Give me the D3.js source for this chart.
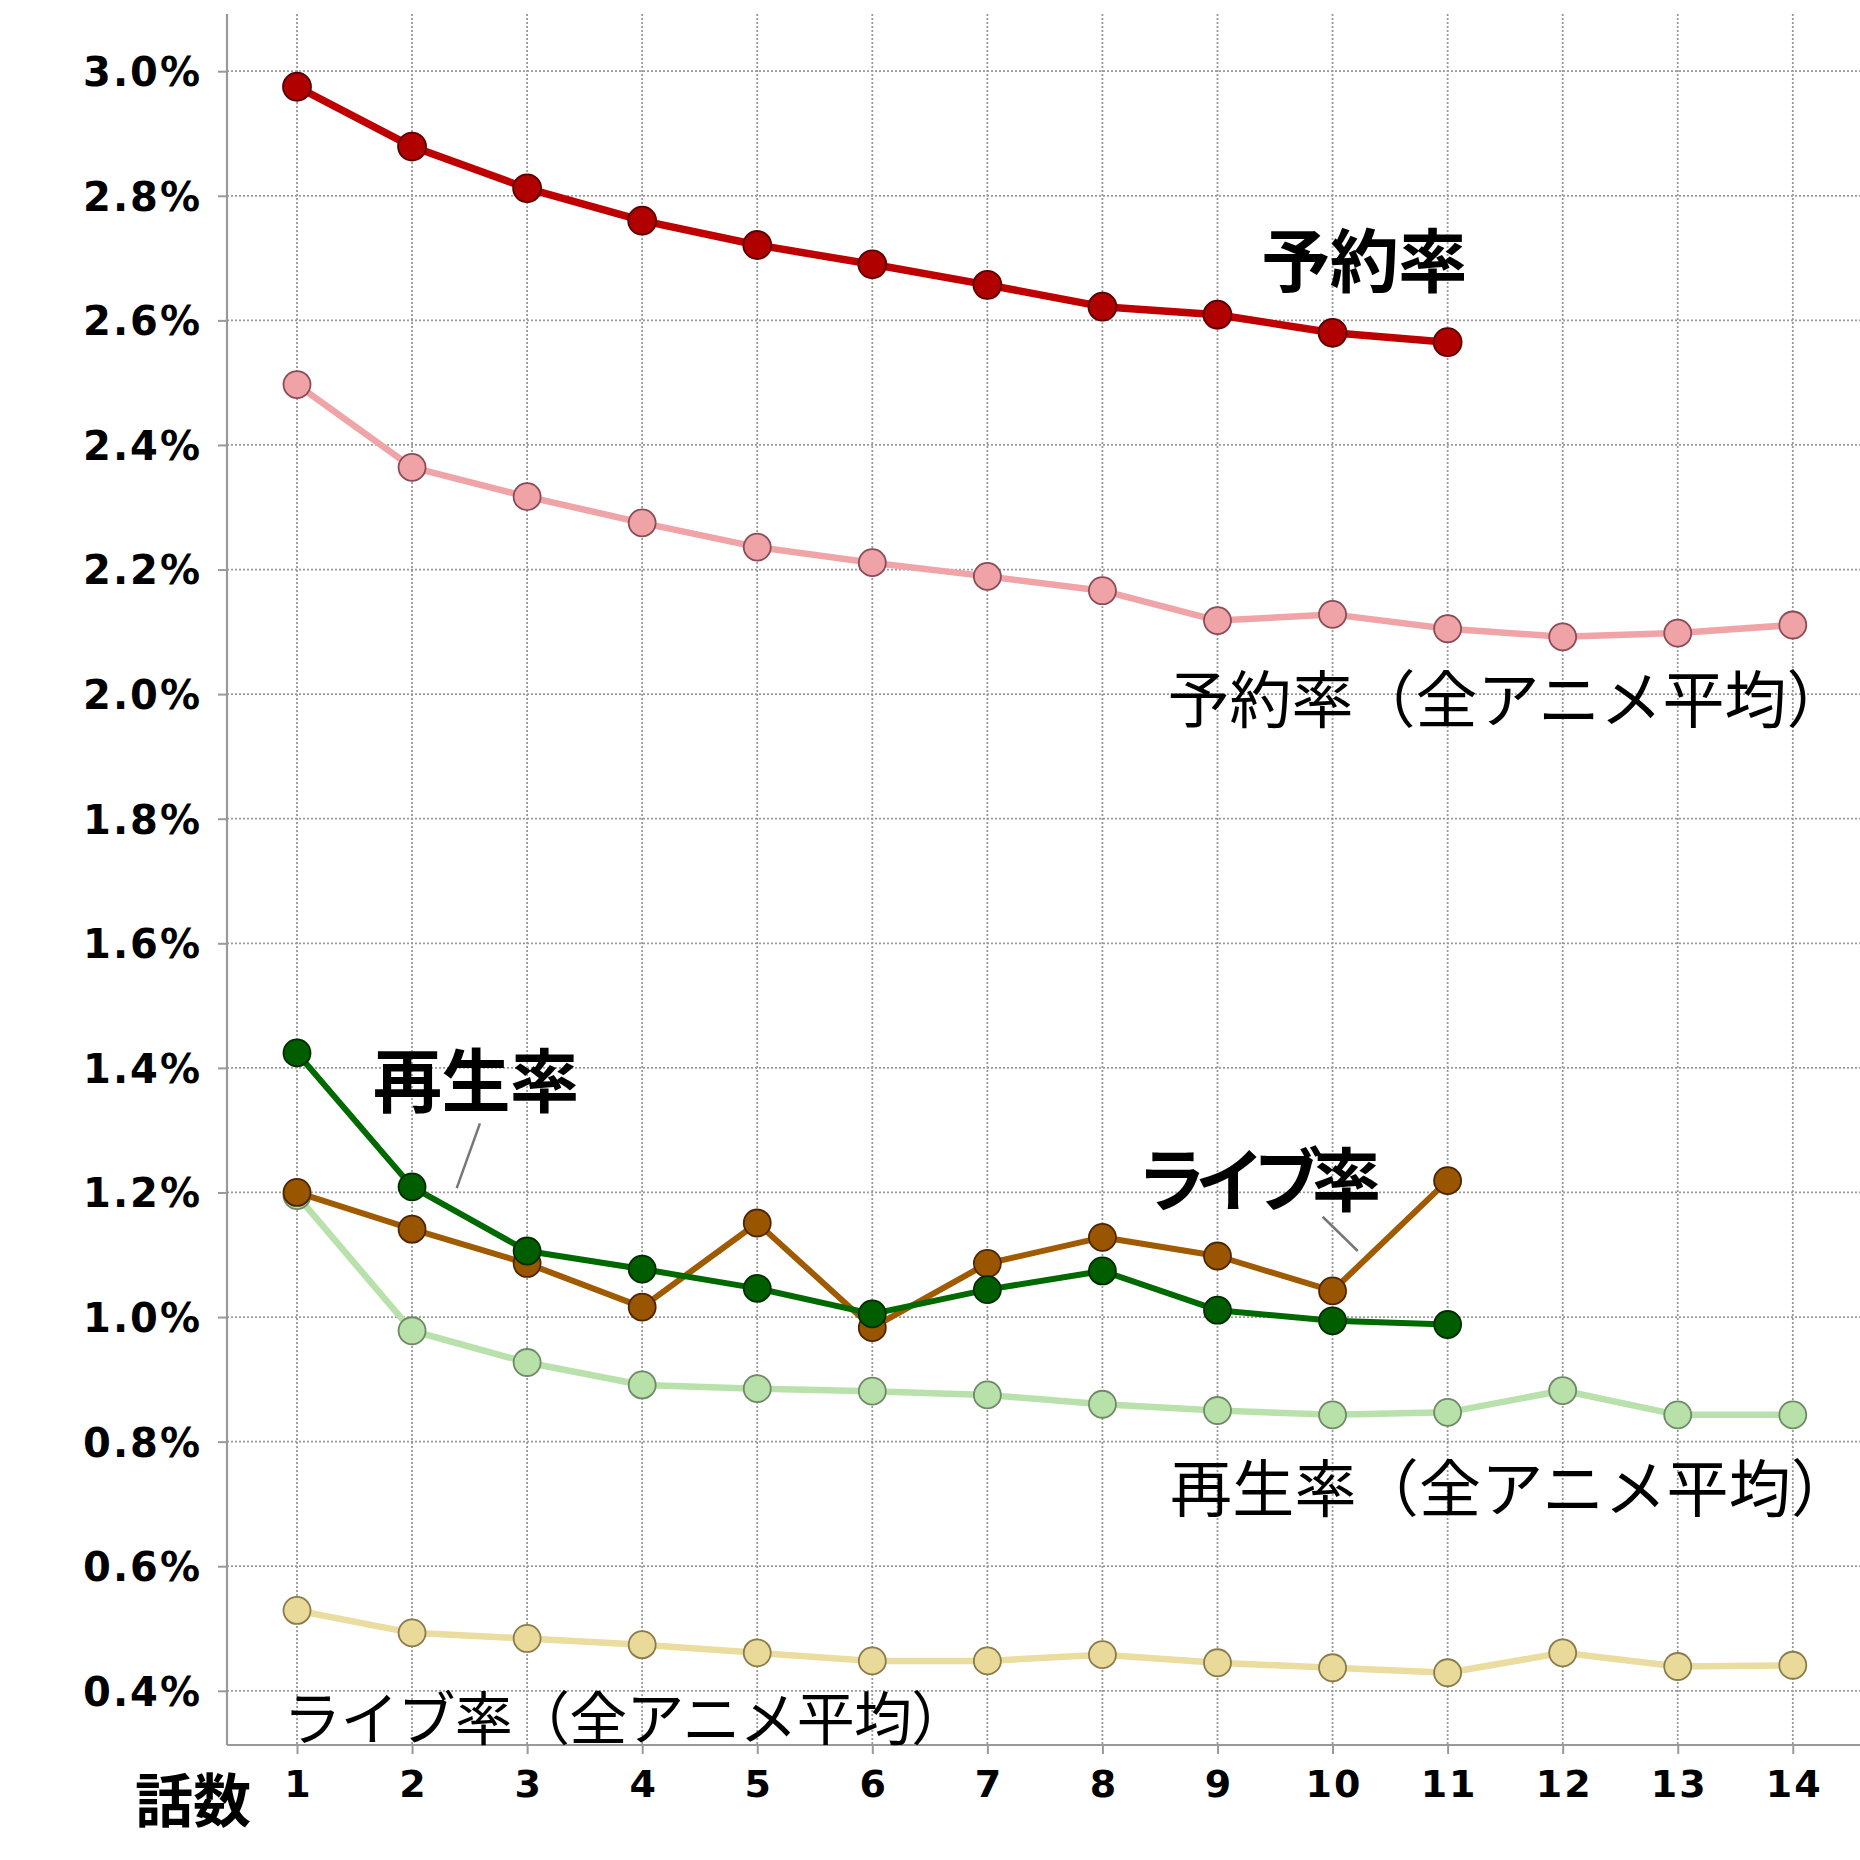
<!DOCTYPE html>
<html>
<head>
<meta charset="utf-8">
<script src="https://cdn.jsdelivr.net/npm/d3@7"></script>
<style>
  html, body { margin: 0; padding: 0; background: #fff; }
  svg { display: block; }
</style>
</head>
<body>
<div id="chart"></div>
<script>
// ---- data ----
const episodes = [1,2,3,4,5,6,7,8,9,10,11,12,13,14];
const yTicks = [0.4,0.6,0.8,1.0,1.2,1.4,1.6,1.8,2.0,2.2,2.4,2.6,2.8,3.0];

const yoyakuRate    = [2.975,2.879,2.812,2.760,2.721,2.690,2.657,2.622,2.609,2.580,2.565];
const saiseiRate    = [1.424,1.209,1.106,1.077,1.046,1.005,1.044,1.074,1.011,0.994,0.988];
const liveRate      = [1.200,1.141,1.086,1.016,1.151,0.983,1.086,1.128,1.098,1.042,1.219];
const yoyakuAvg     = [2.497,2.364,2.317,2.275,2.236,2.211,2.189,2.166,2.118,2.128,2.105,2.092,2.098,2.111];
const saiseiAvg     = [1.195,0.978,0.927,0.891,0.885,0.881,0.875,0.860,0.850,0.843,0.847,0.882,0.843,0.843];
const liveAvg       = [0.529,0.493,0.484,0.474,0.461,0.448,0.448,0.458,0.445,0.437,0.429,0.461,0.439,0.441];

const seriesNames = ["再生率（全アニメ平均）","ライブ率（全アニメ平均）","予約率（全アニメ平均）","ライブ率","再生率","予約率"];

// ---- layout ----
const W = 1860, H = 1860;
const plotLeft = 227, plotRight = 1860, plotTop = 14, plotBottom = 1745;

const x = d3.scaleLinear().domain([1, 14]).range([297, 1792.8]);
const y = d3.scaleLinear().domain([0.4, 3.0]).range([1690.8, 71.2]);

const svg = d3.select("#chart").append("svg")
  .attr("width", W).attr("height", H);

// grid
const grid = svg.append("g");
grid.selectAll("line.hg").data(yTicks).join("line")
  .attr("x1", plotLeft).attr("x2", plotRight)
  .attr("y1", d => y(d)).attr("y2", d => y(d))
  .attr("stroke", "#999").attr("stroke-width", 1.8).attr("stroke-dasharray", "2,2");
grid.selectAll("line.vg").data(episodes).join("line")
  .attr("x1", d => x(d)).attr("x2", d => x(d))
  .attr("y1", plotTop).attr("y2", plotBottom)
  .attr("stroke", "#999").attr("stroke-width", 1.8).attr("stroke-dasharray", "2,2");

// axes
const yAxis = d3.axisLeft(y).tickValues(yTicks).tickSize(9)
  .tickFormat(d => d3.format(".1f")(d) + "%");
const gy = svg.append("g").attr("transform", `translate(${plotLeft},0)`).call(yAxis);
gy.select(".domain").remove();
gy.selectAll(".tick line").attr("stroke", "#999").attr("stroke-width", 2);
gy.selectAll(".tick text")
  .attr("x", -25).attr("dy", "0.36em")
  .style("font-family", "'DejaVu Sans', Verdana, sans-serif")
  .style("letter-spacing", "2px")
  .style("font-weight", "bold").style("font-size", "40px").attr("fill", "#000");

const xAxis = d3.axisBottom(x).tickValues(episodes).tickSize(9).tickFormat(d3.format("d"));
const gx = svg.append("g").attr("transform", `translate(0,${plotBottom})`).call(xAxis);
gx.select(".domain").remove();
gx.selectAll(".tick line").attr("stroke", "#999").attr("stroke-width", 2);
gx.selectAll(".tick text")
  .attr("y", 38).attr("dy", "0.36em").attr("dx", 1)
  .style("font-family", "'DejaVu Sans', Verdana, sans-serif")
  .style("letter-spacing", "2px")
  .style("font-weight", "bold").style("font-size", "38px").attr("fill", "#000");

svg.append("line").attr("x1", plotLeft).attr("x2", plotLeft)
  .attr("y1", plotTop).attr("y2", plotBottom).attr("stroke", "#999").attr("stroke-width", 2.2);
svg.append("line").attr("x1", plotLeft).attr("x2", plotRight)
  .attr("y1", plotBottom).attr("y2", plotBottom).attr("stroke", "#999").attr("stroke-width", 2.2);

svg.append("text").text("話数")
  .attr("x", 193).attr("y", 1797).attr("text-anchor", "middle").attr("dominant-baseline", "central")
  .style("font-family", "'Noto Sans CJK JP', sans-serif").style("font-weight", "bold").style("font-size", "58px");

// series
const series = [
  {name: seriesNames[0], values: saiseiAvg, line: "#B9E1AB", fill: "#B8E0A9", stroke: "#6f8a66", lw: 6.5, r: 13.5},
  {name: seriesNames[1], values: liveAvg,   line: "#EBDC9F", fill: "#E9DA9A", stroke: "#8a7c4c", lw: 6.5, r: 13.5},
  {name: seriesNames[2], values: yoyakuAvg, line: "#F0A4A7", fill: "#EFA3A6", stroke: "#8a4c56", lw: 6.5, r: 13.5},
  {name: seriesNames[3], values: liveRate,  line: "#A05A00", fill: "#9A5500", stroke: "#4d2600", lw: 6, r: 13.5},
  {name: seriesNames[4], values: saiseiRate,line: "#006A00", fill: "#005E00", stroke: "#002d00", lw: 6, r: 13.5},
  {name: seriesNames[5], values: yoyakuRate,line: "#BF0000", fill: "#B00000", stroke: "#5a0000", lw: 7.5, r: 14}
];

const lineGen = d3.line().x((d, i) => x(episodes[i])).y(d => y(d));

series.forEach(s => {
  const g = svg.append("g");
  g.append("path").datum(s.values).attr("d", lineGen)
    .attr("fill", "none").attr("stroke", s.line).attr("stroke-width", s.lw)
    .attr("stroke-linejoin", "round");
  g.selectAll("circle").data(s.values).join("circle")
    .attr("cx", (d, i) => x(episodes[i])).attr("cy", d => y(d)).attr("r", s.r)
    .attr("fill", s.fill).attr("stroke", s.stroke).attr("stroke-width", 1.8);
});

// annotations (positions in data units)
const labels = [
  {text: "予約率", ex: 9.38, v: 2.701, size: 69, bold: true, len: 206},
  {text: "再生率", ex: 1.66, v: 1.385, size: 69, bold: true, len: 206},
  {text: "ライブ率", ex: 8.30, v: 1.227, size: 69, bold: true, len: 244},
  {text: "予約率（全アニメ平均）", ex: 8.565, v: 1.997, size: 62, bold: false, len: 681},
  {text: "再生率（全アニメ平均）", ex: 8.588, v: 0.731, size: 62, bold: false, len: 683},
  {text: "ライブ率（全アニメ平均）", ex: 0.880, v: 0.361, size: 58, bold: false, len: 686}
];
svg.selectAll("text.ann").data(labels).join("text")
  .attr("class", "ann")
  .attr("x", d => x(d.ex)).attr("y", d => y(d.v))
  .attr("dominant-baseline", "central")
  .attr("textLength", d => d.len).attr("lengthAdjust", "spacing")
  .style("font-family", "'Noto Sans CJK JP', sans-serif")
  .style("font-weight", d => d.bold ? "bold" : "normal")
  .style("font-size", d => d.size + "px")
  .text(d => d.text);

const leaders = [
  {x1: 2.388, v1: 1.207, x2: 2.590, v2: 1.311},
  {x1: 9.914, v1: 1.161, x2: 10.219, v2: 1.106}
];
svg.selectAll("line.leader").data(leaders).join("line")
  .attr("x1", d => x(d.x1)).attr("y1", d => y(d.v1))
  .attr("x2", d => x(d.x2)).attr("y2", d => y(d.v2))
  .attr("stroke", "#777").attr("stroke-width", 2.5);
</script>
</body>
</html>
